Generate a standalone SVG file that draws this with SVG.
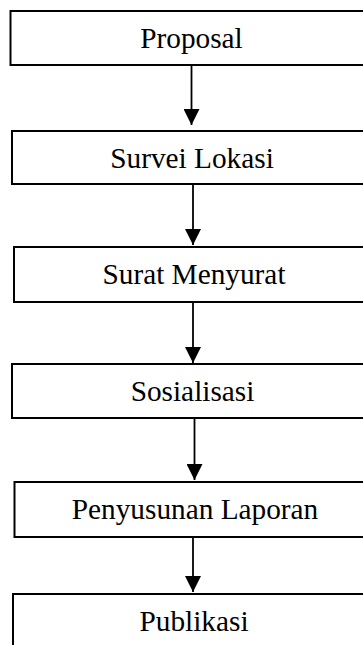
<svg xmlns="http://www.w3.org/2000/svg" width="363" height="645" viewBox="0 0 363 645">
<style>
.box{fill:#fff;stroke:#000;stroke-width:2}
.lbl{font-family:"Liberation Serif","Times New Roman",serif;font-size:29.3px;fill:#000;text-anchor:middle}
.conn{stroke:#000;stroke-width:1.8;fill:none}
</style>
<defs>
<marker id="ah" markerUnits="userSpaceOnUse" markerWidth="16" markerHeight="16" refX="16" refY="8" orient="auto">
<path d="M0,0 L16,8 L0,16 Z" fill="#000"/>
</marker>
</defs>
<rect width="363" height="645" fill="#fff"/>
<g id="connectors">
<line class="conn" x1="191.5" y1="65" x2="191.5" y2="125" marker-end="url(#ah)"/>
<line class="conn" x1="193" y1="184" x2="193" y2="245" marker-end="url(#ah)"/>
<line class="conn" x1="193" y1="302" x2="193" y2="363" marker-end="url(#ah)"/>
<line class="conn" x1="194.5" y1="418" x2="194.5" y2="480" marker-end="url(#ah)"/>
<line class="conn" x1="193" y1="533" x2="193" y2="592" marker-end="url(#ah)"/>
</g>
<g id="n1"><rect class="box" x="10.5" y="11" width="380" height="54"/><text class="lbl" x="191.5" y="48">Proposal</text></g>
<g id="n2"><rect class="box" x="12" y="131" width="380" height="53"/><text class="lbl" x="192" y="168">Survei Lokasi</text></g>
<g id="n3"><rect class="box" x="14" y="247" width="380" height="55"/><text class="lbl" x="194" y="284">Surat Menyurat</text></g>
<g id="n4"><rect class="box" x="12" y="364" width="380" height="54"/><text class="lbl" x="192.5" y="401">Sosialisasi</text></g>
<g id="n5"><rect class="box" x="14.5" y="482" width="380" height="55"/><text class="lbl" x="195" y="519">Penyusunan Laporan</text></g>
<g id="n6"><rect class="box" x="13" y="594" width="380" height="70"/><text class="lbl" x="194" y="631">Publikasi</text></g>
</svg>
